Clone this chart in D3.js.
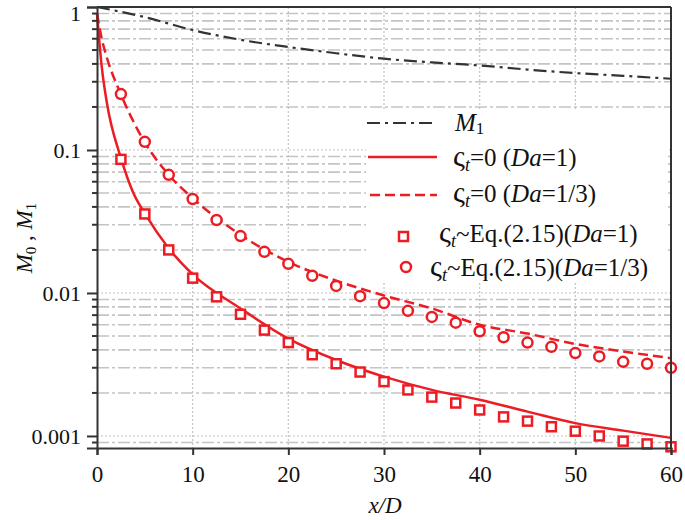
<!DOCTYPE html>
<html>
<head>
<meta charset="utf-8">
<script src="https://cdn.jsdelivr.net/npm/d3@7"></script>
<style>
  body { margin: 0; background: #fff; }
  text { font-family: "Liberation Serif", "DejaVu Serif", serif; fill: #111; }
</style>
</head>
<body>
<div id="chart"></div>
<script>
var svgWidth = 685;
var svgHeight = 520;

var margin = { top: 7, right: 14, bottom: 72, left: 97 };
var width = svgWidth - margin.left - margin.right;
var height = svgHeight - margin.top - margin.bottom;

// data
var xTicks = [0, 10, 20, 30, 40, 50, 60];
var yTicks = [0.001, 0.01, 0.1, 1];
var yTickLabels = ["0.001", "0.01", "0.1", "1"];

var m1X = [0, 5, 10, 15, 20, 25, 30, 35, 40, 45, 50, 55, 60];
var m1Y = [1, 0.85, 0.69, 0.59, 0.525, 0.475, 0.435, 0.41, 0.39, 0.365, 0.345, 0.33, 0.315];

var da1X = [0, 0.5, 1, 2.5, 3.8, 5, 7.5, 10, 15, 20, 25, 30, 35, 40, 45, 50, 55, 60];
var da1Y = [0.9, 0.38, 0.22, 0.088, 0.05, 0.036, 0.0205, 0.0135, 0.0078, 0.0048, 0.0034, 0.0026, 0.0021, 0.00179, 0.00148, 0.00123, 0.00109, 0.00097];

var da3X = [0, 0.5, 1, 2.5, 5, 7.5, 10, 15, 20, 25, 30, 35, 40, 45, 50, 55, 60];
var da3Y = [0.9, 0.6, 0.45, 0.245, 0.113, 0.067, 0.046, 0.0255, 0.0165, 0.0122, 0.0096, 0.0078, 0.006, 0.0052, 0.0044, 0.0039, 0.0035];

var ptX = [2.5, 5, 7.5, 10, 12.5, 15, 17.5, 20, 22.5, 25, 27.5, 30, 32.5, 35, 37.5, 40, 42.5, 45, 47.5, 50, 52.5, 55, 57.5, 60];
var sqY = [0.086, 0.0357, 0.020, 0.0127, 0.0094, 0.0071, 0.0055, 0.0045, 0.0037, 0.0032, 0.0028, 0.0024, 0.0021, 0.00187, 0.0017, 0.00152, 0.00136, 0.00127, 0.00116, 0.00108, 0.0010, 0.00092, 0.00088, 0.00084];
var ciY = [0.246, 0.114, 0.067, 0.0454, 0.0324, 0.025, 0.0194, 0.016, 0.0132, 0.0112, 0.0095, 0.0085, 0.0075, 0.0068, 0.0062, 0.0054, 0.0049, 0.0045, 0.0042, 0.0038, 0.0036, 0.0033, 0.0032, 0.003];

var red = "#ec1c24";
var dark = "#333";

var svg = d3.select("#chart")
  .append("svg")
  .attr("width", svgWidth)
  .attr("height", svgHeight);

var chartGroup = svg.append("g")
  .attr("transform", `translate(${margin.left}, ${margin.top})`);

var xScale = d3.scaleLinear().domain([0, 60]).range([0, width]);
var yScale = d3.scaleLog().domain([0.000824, 1]).range([height, 0]);

// minor values for grid and small ticks
var minorVals = [];
[0.0001, 0.001, 0.01, 0.1].forEach(function(dec) {
  for (var i = 2; i <= 9; i++) {
    var v = dec * i;
    if (v >= 0.000824 && v < 1) minorVals.push(v);
  }
});

// grid
chartGroup.selectAll(".hminor")
  .data(minorVals)
  .enter().append("line")
  .attr("x1", 0).attr("x2", width)
  .attr("y1", d => yScale(d)).attr("y2", d => yScale(d))
  .attr("stroke", "#c4c4c4")
  .attr("stroke-width", 1.6)
  .attr("stroke-dasharray", "12,3,3,3");

chartGroup.selectAll(".hmajor")
  .data([0.001, 0.01, 0.1])
  .enter().append("line")
  .attr("x1", 0).attr("x2", width)
  .attr("y1", d => yScale(d)).attr("y2", d => yScale(d))
  .attr("stroke", "#c4c4c4")
  .attr("stroke-width", 1.2)
  .attr("stroke-dasharray", "2,2");

chartGroup.selectAll(".vgrid")
  .data([10, 20, 30, 40, 50])
  .enter().append("line")
  .attr("x1", d => xScale(d)).attr("x2", d => xScale(d))
  .attr("y1", 0).attr("y2", height)
  .attr("stroke", "#c4c4c4")
  .attr("stroke-width", 1.2)
  .attr("stroke-dasharray", "2,2");

// legend background hides the grid
chartGroup.append("rect")
  .attr("x", 269).attr("y", 103)
  .attr("width", 302).attr("height", 171)
  .attr("fill", "#fff");

// curves
function lineFor(xs) {
  return d3.line()
    .x((d, i) => xScale(xs[i]))
    .y(d => yScale(d))
    .curve(d3.curveMonotoneX);
}

chartGroup.append("path")
  .attr("d", lineFor(m1X)(m1Y))
  .attr("fill", "none")
  .attr("stroke", dark)
  .attr("stroke-width", 2.2)
  .attr("stroke-dasharray", "13,5,3,5");

chartGroup.append("path")
  .attr("d", lineFor(da1X)(da1Y))
  .attr("fill", "none")
  .attr("stroke", red)
  .attr("stroke-width", 2.5);

chartGroup.append("path")
  .attr("d", lineFor(da3X)(da3Y))
  .attr("fill", "none")
  .attr("stroke", red)
  .attr("stroke-width", 2.5)
  .attr("stroke-dasharray", "10,5");

// markers
chartGroup.selectAll(".sq")
  .data(sqY)
  .enter().append("rect")
  .attr("x", (d, i) => xScale(ptX[i]) - 4.5)
  .attr("y", d => yScale(d) - 4.5)
  .attr("width", 9).attr("height", 9)
  .attr("fill", "#fff")
  .attr("stroke", red)
  .attr("stroke-width", 2.5);

chartGroup.selectAll(".ci")
  .data(ciY)
  .enter().append("circle")
  .attr("cx", (d, i) => xScale(ptX[i]))
  .attr("cy", d => yScale(d))
  .attr("r", 5)
  .attr("fill", "#fff")
  .attr("stroke", red)
  .attr("stroke-width", 2.5);

// frame
chartGroup.append("line")
  .attr("x1", 0).attr("x2", width).attr("y1", 0).attr("y2", 0)
  .attr("stroke", dark).attr("stroke-width", 2);
chartGroup.append("line")
  .attr("x1", width).attr("x2", width).attr("y1", 0).attr("y2", height)
  .attr("stroke", dark).attr("stroke-width", 2);

// axes
var bottomAxis = d3.axisBottom(xScale)
  .tickValues(xTicks)
  .tickSize(7)
  .tickFormat(d3.format("d"));

var xAxis = chartGroup.append("g")
  .attr("transform", `translate(0, ${height})`)
  .call(bottomAxis);
xAxis.select(".domain").attr("stroke", dark).attr("stroke-width", 2);
xAxis.selectAll(".tick line").attr("stroke", dark).attr("stroke-width", 2);
xAxis.selectAll(".tick text")
  .attr("font-size", "23px")
  .attr("font-family", "Liberation Serif, serif")
  .attr("fill", "#111")
  .attr("dy", "1.05em");

var leftAxis = d3.axisLeft(yScale)
  .tickValues(yTicks)
  .tickSize(10)
  .tickPadding(6)
  .tickFormat((d, i) => yTickLabels[i]);

var yAxis = chartGroup.append("g").call(leftAxis);
yAxis.select(".domain").attr("stroke", dark).attr("stroke-width", 2);
yAxis.selectAll(".tick line").attr("stroke", dark).attr("stroke-width", 2);
yAxis.selectAll(".tick text")
  .attr("font-size", "22px")
  .attr("font-family", "Liberation Serif, serif")
  .attr("fill", "#111")
  .attr("dy", d => d === 1 ? "0.62em" : "0.32em");

chartGroup.selectAll(".ymin")
  .data(minorVals)
  .enter().append("line")
  .attr("x1", -5).attr("x2", 0)
  .attr("y1", d => yScale(d)).attr("y2", d => yScale(d))
  .attr("stroke", dark).attr("stroke-width", 2);

// axis labels
svg.append("text")
  .attr("x", 385).attr("y", 513)
  .attr("text-anchor", "middle")
  .attr("font-size", "23px")
  .attr("font-style", "italic")
  .text("x/D");

var yl = svg.append("text")
  .attr("transform", "translate(32, 238) rotate(-90)")
  .attr("text-anchor", "middle")
  .attr("font-size", "23px");
yl.append("tspan").attr("font-style", "italic").text("M");
yl.append("tspan").attr("font-size", "15px").attr("dy", 4).text("0");
yl.append("tspan").attr("dy", -4).text(" , ");
yl.append("tspan").attr("font-style", "italic").text("M");
yl.append("tspan").attr("font-size", "15px").attr("dy", 4).text("1");

// legend
var legend = svg.append("g");

legend.append("line")
  .attr("x1", 367).attr("x2", 432).attr("y1", 123).attr("y2", 123)
  .attr("stroke", dark).attr("stroke-width", 2.2)
  .attr("stroke-dasharray", "13,5,3,5");
legend.append("line")
  .attr("x1", 368).attr("x2", 437).attr("y1", 157).attr("y2", 157)
  .attr("stroke", red).attr("stroke-width", 2.5);
legend.append("line")
  .attr("x1", 370).attr("x2", 437).attr("y1", 195).attr("y2", 195)
  .attr("stroke", red).attr("stroke-width", 2.5)
  .attr("stroke-dasharray", "10,5");
legend.append("rect")
  .attr("x", 399).attr("y", 232).attr("width", 9).attr("height", 9)
  .attr("fill", "#fff").attr("stroke", red).attr("stroke-width", 2.5);
legend.append("circle")
  .attr("cx", 406).attr("cy", 267).attr("r", 5)
  .attr("fill", "#fff").attr("stroke", red).attr("stroke-width", 2.5);

var t1 = legend.append("text").attr("x", 455).attr("y", 131).attr("font-size", "25px");
t1.append("tspan").attr("font-style", "italic").text("M");
t1.append("tspan").attr("font-size", "17px").attr("dy", 3).text("1");

function sigmaLabel(x, y, mid, da) {
  var t = legend.append("text").attr("x", x).attr("y", y).attr("font-size", "25px");
  t.append("tspan").attr("font-size", "30px").text("ς");
  t.append("tspan").attr("font-style", "italic").attr("font-size", "18px").attr("dy", 5).text("t");
  t.append("tspan").attr("dy", -5).text(mid);
  t.append("tspan").attr("font-style", "italic").text("Da");
  t.append("tspan").text("=" + da + ")");
}
sigmaLabel(453, 166, "=0 (", "1");
sigmaLabel(453, 202, "=0 (", "1/3");
sigmaLabel(439, 242, "~Eq.(2.15)(", "1");
sigmaLabel(430, 276, "~Eq.(2.15)(", "1/3");
</script>
</body>
</html>
